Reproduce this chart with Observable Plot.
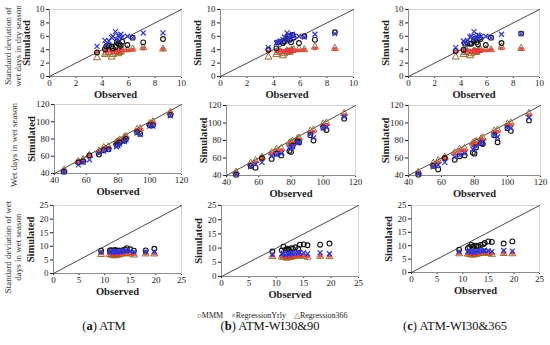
<!DOCTYPE html>
<html><head><meta charset="utf-8">
<script src="https://cdn.jsdelivr.net/npm/d3@7"></script>
<script src="https://cdn.jsdelivr.net/npm/@observablehq/plot@0.6"></script>
<style>
body{margin:0;background:#fff;}
#root{position:relative;width:550px;height:345px;background:#fff;font-family:"Liberation Serif",serif;overflow:hidden;}
#root svg.plot{position:absolute;}
g[aria-label="x-axis label"] text, g[aria-label="y-axis label"] text{font-weight:bold;font-size:10.5px;}
.cap{position:absolute;font-size:12.5px;color:#111;white-space:nowrap;transform:translateX(-50%);}
.leg{position:absolute;left:197px;top:311px;font-size:8px;color:#222;white-space:nowrap;}
</style>
</head><body><div id="root"></div>
<script>
// ---- Data ----
const seriesNames = ["MMM", "RegressionYrly", "Regression366"];
const captions = ["ATM", "ATM-WI30&90", "ATM-WI30&365"];
const captionLetters = ["a", "b", "c"];
const rowLabels = [["Standard deviation of", "wet days in dry season"], ["Wet days in wet season"], ["Standard deviation of wet", "days in wet season"]];
const row1Ticks = [0, 2, 4, 6, 8, 10];
const row2Ticks = [40, 60, 80, 100, 120];
const row3Ticks = [0, 5, 10, 15, 20, 25];

// Row 1: SD of wet days in dry season
const obs1 = [3.6, 4.2, 4.3, 4.5, 4.7, 4.8, 5.0, 5.1, 5.2, 5.3, 5.4, 5.5, 5.9, 6.3, 7.1, 8.6];
const a1MMM = [3.6, 4.1, 4.5, 4.6, 4.5, 4.2, 4.4, 5.2, 4.9, 4.8, 4.6, 5.2, 4.7, 5.8, 5.1, 5.6];
const a1Yrly = [4.5, 5.4, 4.8, 5.3, 5.8, 6.0, 6.7, 5.5, 6.1, 6.0, 6.3, 5.9, 6.0, 5.8, 6.5, 6.5];
const a1R366 = [2.8, 3.3, 3.5, 3.6, 2.9, 3.3, 3.8, 3.7, 3.4, 3.6, 3.7, 4.0, 4.0, 4.1, 4.3, 4.1];
const a1Red = [3.7, 3.8, 3.7, 3.9, 3.8, 3.6, 4.0, 3.9, 3.6, 3.9, 3.8, 3.9, 3.9, 4.0, 4.2, 4.1];
const b1MMM = [4.0, 4.2, 5.1, 5.2, 5.0, 5.3, 5.6, 6.0, 5.5, 5.1, 6.2, 5.8, 5.0, 6.0, 5.5, 6.6];
const b1Yrly = [4.3, 5.0, 5.1, 5.3, 5.5, 5.9, 6.5, 5.4, 5.8, 6.1, 6.3, 6.0, 6.0, 5.9, 6.3, 6.4];
const b1R366 = [2.9, 3.3, 3.6, 3.7, 3.1, 3.4, 3.8, 3.7, 3.6, 3.9, 3.9, 4.0, 4.1, 4.0, 4.4, 4.2];
const b1Red = [3.7, 3.8, 3.8, 3.9, 3.8, 3.6, 4.0, 3.9, 3.7, 3.9, 3.8, 3.9, 3.9, 4.0, 4.2, 4.1];
const c1MMM = [3.8, 4.0, 4.9, 5.0, 4.9, 4.9, 5.3, 5.6, 5.1, 4.8, 5.8, 5.6, 4.7, 5.8, 5.0, 6.4];
const c1Yrly = [4.3, 5.3, 5.0, 5.4, 5.9, 6.0, 6.7, 5.6, 5.9, 6.2, 6.1, 5.9, 6.0, 5.8, 6.3, 6.4];
const c1R366 = [2.9, 3.3, 3.6, 3.7, 3.1, 3.4, 3.8, 3.7, 3.6, 3.9, 3.9, 4.0, 4.1, 4.0, 4.4, 4.2];
const c1Red = [3.7, 3.8, 3.8, 3.9, 3.8, 3.6, 4.0, 3.9, 3.7, 3.9, 3.8, 3.9, 3.9, 4.0, 4.2, 4.1];

// Row 2: wet days in wet season
const obs2 = [46, 55, 58, 62, 68, 71, 74, 79, 80, 81, 84, 85, 92, 94, 100, 102, 113];
const a2MMM = [42, 53, 54, 61, 62, 67, 68, 73, 74, 76, 78, 80, 88, 86, 96, 96, 108];
const a2Yrly = [42, 50, 53, 56, 63, 66, 68, 71, 72, 74, 77, 79, 87, 85, 95, 95, 107];
const a2R366 = [44, 54, 56, 61, 66, 70, 71, 76, 77, 79, 82, 83, 91, 92, 98, 100, 111];
const a2Red = [44, 53, 55, 60, 65, 69, 70, 75, 76, 78, 81, 82, 90, 91, 97, 99, 110];
const b2MMM = [41, 51, 49, 60, 59, 65, 63, 68, 67, 74, 79, 78, 86, 80, 95, 92, 105];
const b2Yrly = [41, 50, 53, 55, 62, 64, 65, 71, 72, 73, 77, 78, 87, 83, 94, 95, 107];
const b2R366 = [44, 54, 57, 61, 66, 70, 71, 77, 78, 79, 82, 83, 91, 92, 99, 100, 111];
const b2Red = [43, 52, 55, 60, 65, 68, 69, 75, 76, 77, 81, 81, 89, 90, 97, 98, 109];
const c2MMM = [41, 51, 47, 60, 58, 62, 63, 66, 65, 72, 77, 76, 86, 78, 94, 91, 103];
const c2Yrly = [42, 50, 52, 55, 61, 63, 65, 70, 71, 73, 77, 78, 86, 84, 94, 94, 106];
const c2R366 = [44, 54, 57, 61, 66, 70, 71, 77, 78, 79, 82, 83, 91, 92, 99, 100, 111];
const c2Red = [43, 52, 55, 60, 65, 68, 69, 75, 76, 77, 81, 81, 89, 90, 97, 98, 109];

// Row 3: SD of wet days in wet season
const obs3 = [9.3, 11.0, 11.3, 11.7, 12.0, 12.3, 12.7, 13.0, 13.5, 14.0, 14.3, 15.0, 15.7, 18.0, 19.7];
const a3MMM = [8.4, 8.5, 8.6, 8.2, 8.7, 8.4, 8.5, 8.3, 8.6, 8.8, 9.3, 8.9, 8.4, 8.5, 9.1];
const a3Yrly = [8.0, 8.1, 8.2, 7.8, 8.0, 7.9, 8.1, 8.0, 8.2, 8.3, 8.5, 8.3, 8.0, 8.1, 8.1];
const a3R366 = [7.0, 7.0, 6.8, 6.6, 6.5, 6.7, 6.8, 7.0, 7.2, 7.3, 7.4, 7.2, 6.8, 7.2, 7.2];
const a3Red = [7.4, 7.3, 7.1, 6.9, 6.9, 7.0, 7.1, 7.3, 7.5, 7.6, 7.7, 7.5, 7.1, 7.4, 7.4];
const b3MMM = [8.8, 9.2, 10.5, 9.4, 9.8, 9.5, 10.0, 9.8, 10.3, 9.8, 11.2, 11.3, 11.0, 11.2, 11.6];
const b3Yrly = [7.8, 8.0, 8.2, 7.6, 8.0, 7.9, 8.1, 8.3, 8.4, 8.2, 8.5, 8.3, 8.0, 8.4, 8.0];
const b3R366 = [7.0, 6.9, 6.8, 6.6, 6.5, 6.7, 6.8, 7.0, 7.1, 7.2, 7.3, 7.1, 6.8, 7.1, 7.0];
const b3Red = [7.3, 7.2, 7.1, 6.9, 6.8, 7.0, 7.1, 7.3, 7.4, 7.5, 7.6, 7.4, 7.1, 7.3, 7.3];
const c3MMM = [8.5, 9.0, 9.5, 10.3, 9.6, 10.0, 10.0, 9.8, 10.3, 10.5, 11.0, 11.6, 11.4, 10.8, 11.6];
const c3Yrly = [7.8, 7.9, 8.0, 7.5, 7.8, 7.6, 7.9, 8.0, 8.2, 8.1, 8.3, 8.1, 7.8, 8.2, 8.0];
const c3R366 = [7.0, 6.9, 6.8, 6.6, 6.5, 6.7, 6.8, 7.0, 7.1, 7.2, 7.3, 7.1, 6.8, 7.1, 7.0];
const c3Red = [7.3, 7.2, 7.1, 6.9, 6.8, 7.0, 7.1, 7.3, 7.4, 7.5, 7.6, 7.4, 7.1, 7.3, 7.3];

// ---- Layout (plot-area boxes: left, right, top, bottom) ----
const panels = [
  {obs: obs1, mmm: a1MMM, yrly: a1Yrly, r366: a1R366, red: a1Red, ticks: row1Ticks, box: [49, 181, 9, 76]},
  {obs: obs1, mmm: b1MMM, yrly: b1Yrly, r366: b1R366, red: b1Red, ticks: row1Ticks, box: [220, 353, 9, 76]},
  {obs: obs1, mmm: c1MMM, yrly: c1Yrly, r366: c1R366, red: c1Red, ticks: row1Ticks, box: [408, 539, 9, 76]},
  {obs: obs2, mmm: a2MMM, yrly: a2Yrly, r366: a2R366, red: a2Red, ticks: row2Ticks, box: [54, 181, 104, 173]},
  {obs: obs2, mmm: b2MMM, yrly: b2Yrly, r366: b2R366, red: b2Red, ticks: row2Ticks, box: [226, 355, 105, 175]},
  {obs: obs2, mmm: c2MMM, yrly: c2Yrly, r366: c2R366, red: c2Red, ticks: row2Ticks, box: [408, 540, 105, 175]},
  {obs: obs3, mmm: a3MMM, yrly: a3Yrly, r366: a3R366, red: a3Red, ticks: row3Ticks, box: [53, 181, 205, 273]},
  {obs: obs3, mmm: b3MMM, yrly: b3Yrly, r366: b3R366, red: b3Red, ticks: row3Ticks, box: [221, 358, 205, 276]},
  {obs: obs3, mmm: c3MMM, yrly: c3Yrly, r366: c3R366, red: c3Red, ticks: row3Ticks, box: [411, 539, 205, 272]}
];

const root = document.getElementById("root");
const mL = 45, mR = 6, mT = 6, mB = 26;

panels.forEach(p => {
  const [L, R, T, B] = p.box;
  const dom = [p.ticks[0], p.ticks[p.ticks.length - 1]];
  const pts = k => p.obs.map((o, i) => ({obs: o, sim: p[k][i]}));
  const chart = Plot.plot({
    width: (R - L) + mL + mR,
    height: (B - T) + mT + mB,
    marginLeft: mL, marginRight: mR, marginTop: mT, marginBottom: mB,
    style: {fontFamily: "Liberation Serif, serif", fontSize: "9px", background: "transparent", color: "#222", overflow: "visible"},
    x: {domain: dom, ticks: p.ticks, label: "Observed", labelAnchor: "center", labelArrow: "none", labelOffset: 21, tickSize: 2, tickPadding: 1},
    y: {domain: dom, ticks: p.ticks, label: "Simulated", labelAnchor: "center", labelArrow: "none", labelOffset: 27, tickSize: 3, tickPadding: 2},
    marks: [
      Plot.frame({stroke: "#d4d4d4"}),
      Plot.ruleX([dom[0]], {stroke: "#8c8c8c"}),
      Plot.ruleY([dom[0]], {stroke: "#8c8c8c"}),
      Plot.line(dom, {x: d => d, y: d => d, stroke: "#333", strokeWidth: 0.9}),
      Plot.dot(pts("r366"), {x: "obs", y: "sim", symbol: "triangle", stroke: "#9a6a2e", r: 2.6, strokeWidth: 1}),
      Plot.dot(pts("red"), {x: "obs", y: "sim", symbol: "square", stroke: "#e3262b", fill: "#f05a5a", r: 1.6, strokeWidth: 0.7}),
      Plot.dot(pts("mmm"), {x: "obs", y: "sim", symbol: "circle", stroke: "#111", r: 2.4, strokeWidth: 1.1}),
      Plot.dot(pts("yrly"), {x: "obs", y: "sim", symbol: "times", stroke: "#2f35d6", r: 2.4, strokeWidth: 1.2})
    ]
  });
  chart.classList.add("plot");
  chart.style.left = (L - mL) + "px";
  chart.style.top = (T - mT) + "px";
  root.appendChild(chart);
});

// Row labels
const ns = "http://www.w3.org/2000/svg";
const lab = document.createElementNS(ns, "svg");
lab.setAttribute("width", 26); lab.setAttribute("height", 345);
lab.style.position = "absolute"; lab.style.left = "0px"; lab.style.top = "0px";
const rowCenters = [46, 145, 247];
rowLabels.forEach((lines, r) => {
  const n = lines.length;
  lines.forEach((t, j) => {
    const x = n === 1 ? 17 : 10.5 + j * 10.5;
    const tx = document.createElementNS(ns, "text");
    tx.setAttribute("transform", `translate(${x},${rowCenters[r]}) rotate(-90)`);
    tx.setAttribute("text-anchor", "middle");
    tx.setAttribute("font-family", "Liberation Serif, serif");
    tx.setAttribute("font-size", "9px");
    tx.setAttribute("fill", "#333");
    tx.textContent = t;
    lab.appendChild(tx);
  });
});
root.appendChild(lab);

// Legend
const leg = document.createElement("div");
leg.className = "leg";
leg.innerHTML = `<span style="color:#111;font-weight:bold">○</span>${seriesNames[0]}&nbsp;&nbsp;&nbsp;&nbsp;<span style="color:#2f35d6">×</span>${seriesNames[1]}&nbsp;&nbsp;&nbsp;&nbsp;<span style="color:#9a6a2e">△</span>${seriesNames[2]}`;
root.appendChild(leg);

// Captions
const capX = [104, 270, 455];
captions.forEach((c, i) => {
  const d = document.createElement("div");
  d.className = "cap";
  d.style.left = capX[i] + "px";
  d.style.top = "319px";
  d.innerHTML = `(<b>${captionLetters[i]}</b>) ${c.replace("&", "&amp;")}`;
  root.appendChild(d);
});
</script></body></html>
